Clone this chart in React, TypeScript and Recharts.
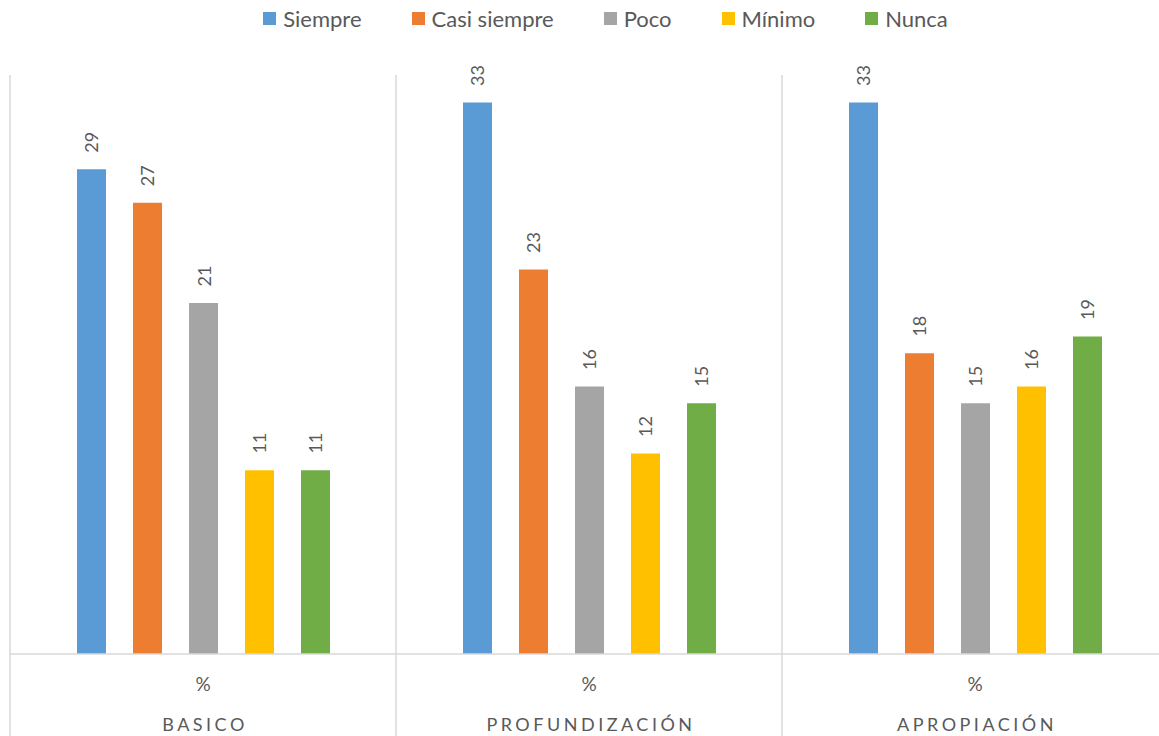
import React from 'react'
import { BarChart, Bar, XAxis, YAxis, LabelList } from 'recharts'

// Niveles (categorías del eje X) y series por frecuencia
const niveles = ['BASICO', 'PROFUNDIZACIÓN', 'APROPIACIÓN']
const unidad = '%'
const siempre = [29, 33, 33]
const casiSiempre = [27, 23, 18]
const poco = [21, 16, 15]
const minimo = [11, 12, 16]
const nunca = [11, 15, 19]

const SERIES = [
  { key: 'siempre', name: 'Siempre', color: '#5B9BD5', values: siempre },
  { key: 'casiSiempre', name: 'Casi siempre', color: '#ED7D31', values: casiSiempre },
  { key: 'poco', name: 'Poco', color: '#A5A5A5', values: poco },
  { key: 'minimo', name: 'Mínimo', color: '#FFC000', values: minimo },
  { key: 'nunca', name: 'Nunca', color: '#70AD47', values: nunca },
]

const data = niveles.map((nivel, i) => {
  const row: Record<string, string | number> = { nivel }
  SERIES.forEach((s) => {
    row[s.key] = s.values[i]
  })
  return row
})

const FONT = 'Lato, "Open Sans", sans-serif'
const TEXT = '#595959'
const LINE = '#D9D9D9'

const CHART_W = 1180
const CHART_H = 760
const MARGIN = { top: 69, right: 12, bottom: 0, left: 10 }
const AXIS_H = 106
const PLOT_BOTTOM = CHART_H - MARGIN.bottom - AXIS_H
const PLOT_W = CHART_W - MARGIN.left - MARGIN.right
const BAND = PLOT_W / niveles.length
const SEP_TOP = 75

// separadores entre niveles + rótulo de dos líneas
const NivelTick = (props: any) => {
  const { x, payload, index } = props
  const left = x - BAND / 2
  const right = x + BAND / 2
  return (
    <g>
      <line x1={left} x2={left} y1={SEP_TOP} y2={CHART_H} stroke={LINE} strokeWidth={1.5} />
      {index === niveles.length - 1 && (
        <line x1={right} x2={right} y1={SEP_TOP} y2={CHART_H} stroke={LINE} strokeWidth={1.5} />
      )}
      <text
        x={x}
        y={PLOT_BOTTOM + 29}
        textAnchor="middle"
        dominantBaseline="central"
        fontSize={19}
        fontFamily={FONT}
        fill={TEXT}
      >
        {unidad}
      </text>
      <text
        x={x + 2}
        y={PLOT_BOTTOM + 70}
        textAnchor="middle"
        dominantBaseline="central"
        fontSize={18}
        fontFamily={FONT}
        letterSpacing={3.5}
        fill={TEXT}
      >
        {payload.value}
      </text>
    </g>
  )
}

const ValorVertical = (props: any) => {
  const { x, y, width, value } = props
  const cx = x + width / 2
  const cy = y - 27
  return (
    <text
      x={cx}
      y={cy}
      transform={`rotate(-90, ${cx}, ${cy})`}
      textAnchor="middle"
      dominantBaseline="central"
      fontSize={18}
      fontFamily={FONT}
      fill={TEXT}
    >
      {value}
    </text>
  )
}

const Leyenda = () => (
  <div
    style={{
      position: 'absolute',
      top: 0,
      left: 0,
      width: 1211,
      height: 36,
      display: 'flex',
      justifyContent: 'center',
      alignItems: 'center',
      gap: 50,
      fontFamily: FONT,
      fontSize: 22,
      color: TEXT,
    }}
  >
    {SERIES.map((s) => (
      <div key={s.key} style={{ display: 'flex', alignItems: 'center', gap: 7 }}>
        <span style={{ width: 13, height: 13, background: s.color, display: 'inline-block' }} />
        <span>{s.name}</span>
      </div>
    ))}
  </div>
)

export default function App() {
  return (
    <div
      style={{
        position: 'fixed',
        top: 0,
        left: 0,
        width: 1159,
        height: 736,
        overflow: 'hidden',
        background: '#fff',
      }}
    >
      <Leyenda />
      <BarChart
        width={CHART_W}
        height={CHART_H}
        data={data}
        margin={MARGIN}
        barSize={29}
        barGap={27}
      >
        <XAxis
          dataKey="nivel"
          height={AXIS_H}
          axisLine={{ stroke: LINE, strokeWidth: 1.5 }}
          tickLine={false}
          tick={<NivelTick />}
          interval={0}
        />
        <YAxis hide domain={[0, 35]} />
        {SERIES.map((s) => (
          <Bar key={s.key} dataKey={s.key} name={s.name} fill={s.color} isAnimationActive={false}>
            <LabelList dataKey={s.key} content={<ValorVertical />} />
          </Bar>
        ))}
      </BarChart>
    </div>
  )
}
